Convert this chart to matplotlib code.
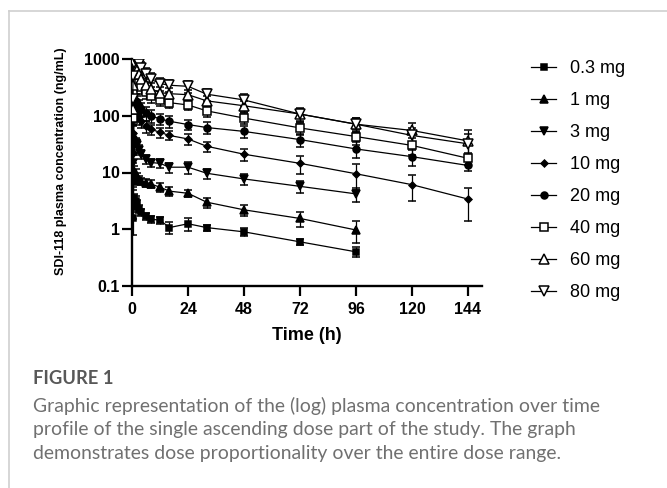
import matplotlib
matplotlib.use('Agg')
import matplotlib.pyplot as plt
from matplotlib.lines import Line2D

# ---------------- data ----------------
times = [0.25, 0.5, 1, 1.5, 2, 3, 4, 6, 8, 12, 16, 24, 32, 48, 72, 96, 120, 144]
doses = ['0.3 mg', '1 mg', '3 mg', '10 mg', '20 mg', '40 mg', '60 mg', '80 mg']

mean_03 = [1.6, 2.5, 3.5, 3.2, 2.8, 2.3, 2.0, 1.7, 1.5, 1.45, 1.07, 1.25, 1.07, 0.90, 0.60, 0.40]
sd_03 = [0.8, 0.5, 0.7, 0.6, 0.5, 0.4, 0.3, 0.25, 0.2, 0.2, 0.25, 0.3, 0.12, 0.15, 0.08, 0.08]

mean_1 = [3.5, 7.0, 10.5, 9.6, 8.5, 7.5, 7.0, 6.6, 6.3, 5.5, 4.7, 4.3, 3.0, 2.2, 1.55, 0.97]
sd_1 = [2.0, 2.0, 2.5, 2.0, 1.5, 1.2, 1.0, 1.0, 1.0, 1.0, 0.8, 0.6, 0.6, 0.5, 0.45, 0.4]

mean_3 = [7, 15, 30, 33, 30, 25, 21, 17, 15, 14.5, 12.4, 12.4, 9.7, 7.7, 5.7, 4.2]
sd_3 = [4, 5, 8, 8, 7, 5, 4, 3, 2.5, 2.5, 2.5, 3, 2, 1.6, 1.4, 1.2]

mean_10 = [22, 50, 110, 120, 110, 95, 80, 65, 58, 51, 45, 39, 29, 21, 14.5, 9.5, 6.1, 3.4]
sd_10 = [12, 20, 35, 35, 30, 25, 20, 15, 12, 10, 8, 8, 6, 5, 5, 4.5, 3, 2]

mean_20 = [40, 90, 160, 180, 170, 150, 130, 112, 100, 88, 80, 70, 62, 53, 38, 26, 19, 13.3]
sd_20 = [25, 40, 60, 60, 50, 40, 35, 30, 25, 20, 18, 15, 15, 13, 10, 8, 6, 2.5]

mean_40 = [90, 250, 450, 500, 450, 380, 320, 260, 220, 188, 170, 155, 122, 91, 61, 43, 30, 17.8]
sd_40 = [60, 100, 150, 150, 120, 100, 80, 60, 50, 40, 35, 30, 25, 20, 15, 12, 10, 4]

mean_60 = [130, 350, 650, 700, 650, 550, 450, 350, 300, 256, 245, 235, 183, 150, 107, 71, 55, 36]
sd_60 = [90, 150, 200, 200, 180, 150, 120, 100, 80, 60, 60, 50, 40, 35, 25, 20, 20, 20]

mean_80 = [200, 500, 850, 950, 900, 800, 700, 540, 440, 370, 345, 330, 240, 190, 107, 71, 45, 32]
sd_80 = [130, 200, 250, 250, 250, 200, 180, 150, 120, 100, 80, 80, 60, 50, 30, 20, 15, 15]

means = [mean_03, mean_1, mean_3, mean_10, mean_20, mean_40, mean_60, mean_80]
sds = [sd_03, sd_1, sd_3, sd_10, sd_20, sd_40, sd_60, sd_80]

x_ticks = [0, 24, 48, 72, 96, 120, 144]
y_ticks = [0.1, 1, 10, 100, 1000]
y_ticklabels = ['0.1', '1', '10', '100', '1000']

# ---------------- styles ----------------
markers = ['s', '^', 'v', 'D', 'o', 's', '^', 'v']
msizes = [5, 5.5, 5.5, 3.5, 5, 5.5, 6.5, 6.5]
filled = [True, True, True, True, True, False, False, False]

W, H = 667, 488
fig = plt.figure(figsize=(W / 100, H / 100), dpi=100)

# border lines
fig.add_artist(Line2D([9 / W, 9 / W], [0, 1 - 10.5 / H], color='#cfcfcf', lw=1.2))
fig.add_artist(Line2D([9 / W, 1], [1 - 10.5 / H, 1 - 10.5 / H], color='#cfcfcf', lw=1.2))

x0, x1 = 132, 482
y0, y1 = 286, 59
ax = fig.add_axes([x0 / W, 1 - y0 / H, (x1 - x0) / W, (y0 - y1) / H])

handles = []
for m, s, mk, ms, fl, lab in zip(means, sds, markers, msizes, filled, doses):
    t = times[:len(m)]
    lo = [min(sd, v * 0.999) for v, sd in zip(m, s)]
    cont = ax.errorbar(t, m, yerr=[lo, s], color='black', lw=0.9, elinewidth=0.9,
                       capsize=3, capthick=0.9, marker=mk, markersize=ms,
                       markerfacecolor='black' if fl else 'white',
                       markeredgecolor='black', markeredgewidth=1.1, label=lab, zorder=3)
    handles.append(cont[0])

ax.set_yscale('log')
ax.set_ylim(0.1, 1000)
ax.set_xlim(0, 150)
ax.set_xticks(x_ticks)
ax.set_yticks(y_ticks)
ax.set_yticklabels(y_ticklabels)
ax.yaxis.set_minor_locator(matplotlib.ticker.NullLocator())
ax.xaxis.set_minor_locator(matplotlib.ticker.NullLocator())

for sp in ['top', 'right']:
    ax.spines[sp].set_visible(False)
for sp in ['left', 'bottom']:
    ax.spines[sp].set_linewidth(1.7)
ax.tick_params(axis='both', direction='out', length=7.5, width=1.6, labelsize=11.5)
ax.tick_params(axis='y', pad=1.5)
ax.tick_params(axis='x', pad=4)
for lbl in ax.get_xticklabels() + ax.get_yticklabels():
    lbl.set_fontfamily('Liberation Sans')
    lbl.set_fontweight('bold')

ax.set_xlabel('Time (h)', fontsize=13, fontweight='bold', family='Liberation Sans', va='center')
ax.xaxis.set_label_coords(0.5, -(336 - 286) / (y0 - y1))
ax.set_ylabel('SDI-118 plasma concentration (ng/mL)', fontsize=9, fontweight='bold',
              family='Liberation Sans', va='center')
ax.yaxis.set_label_coords(-(132 - 61) / (x1 - x0), (286 - 161) / (y0 - y1))

leg = fig.legend(handles, doses, loc='upper left', bbox_to_anchor=(531 / W, 1 - 60 / H),
                 frameon=False, prop={'family': 'Liberation Sans', 'size': 13},
                 handlelength=1.4, handletextpad=0.75, labelspacing=0.83, borderpad=0,
                 borderaxespad=0)

# caption
fig.canvas.draw()
r = fig.canvas.get_renderer()
cap = ['Graphic representation of the (log) plasma concentration over time',
       'profile of the single ascending dose part of the study. The graph',
       'demonstrates dose proportionality over the entire dose range.']
texts = []
for i, line in enumerate(cap):
    texts.append(fig.text(33 / W, 1 - (406 + 24 * i) / H, line, family='Lato', fontsize=12,
                          color='#707070', va='center'))
w0 = texts[0].get_window_extent(r).width
fs = 12 * 565 / w0
for tx in texts:
    tx.set_fontsize(fs)
ft = fig.text(33 / W, 1 - 379 / H, 'FIGURE 1', family='Lato', fontweight='bold',
              fontsize=fs * 0.95, color='#585858', va='center')

fig.savefig('out.png', dpi=100)
